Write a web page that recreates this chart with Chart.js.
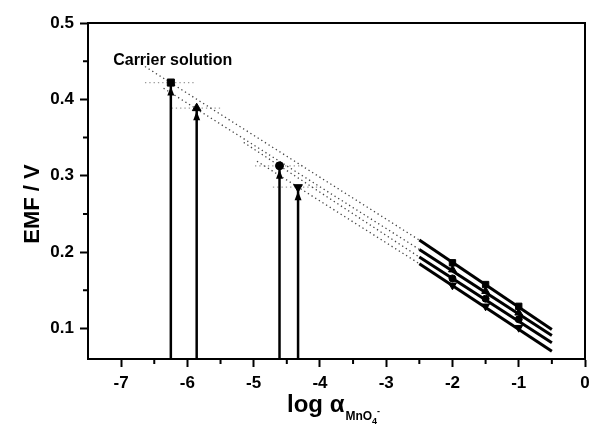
<!DOCTYPE html>
<html><head><meta charset="utf-8">
<script src="https://cdn.jsdelivr.net/npm/chart.js@4/dist/chart.umd.min.js"></script>
<style>html,body{margin:0;padding:0;background:#fff;overflow:hidden}#wrap{width:591px;height:425px;position:relative}</style>
</head><body><div id="wrap"><canvas id="c"></canvas></div>
<script>
// ---- axis ticks ----
const xTicks = [-7, -6, -5, -4, -3, -2, -1, 0];
const yTicks = [0.1, 0.2, 0.3, 0.4, 0.5];
const xMinorTicks = [-6.5, -5.5, -4.5, -3.5, -2.5, -1.5, -0.5];
const yMinorTicks = [0.15, 0.25, 0.35, 0.45];
const xRange = [-7.5, 0];
const yRange = [0.06, 0.5];

// ---- calibration points (log a, EMF / V) ----
const calibLogA = [-2, -1.5, -1];
const emfSquare   = [0.186, 0.1575, 0.129];
const emfTriUp    = [0.177, 0.1488, 0.1205];
const emfCircle   = [0.1655, 0.139, 0.112];
const emfTriDown  = [0.1565, 0.129, 0.101];

// ---- fitted calibration lines (solid) ----
const fitLogA = [-2.5, -0.5];
const fitSquare  = [0.2157, 0.0987];
const fitTriUp   = [0.2035, 0.0908];
const fitCircle  = [0.1935, 0.0813];
const fitTriDown = [0.1848, 0.0703];

// ---- carrier solution readings ----
const carrierLogA = [-6.25, -5.86, -4.61, -4.33];
const carrierEmf  = [0.422, 0.3885, 0.313, 0.285];

// ---- dotted extrapolations (from start to the fit line start at -2.5) ----
const extStartLogA = [-6.64, -6.36, -5.15, -4.95];
const extStartEmf  = [0.443, 0.4146, 0.3436, 0.319];

// ---- dotted carrier levels ----
const levelFromLogA = [-6.64, -6.24, -4.98, -4.71];
const levelToLogA   = [-5.89, -5.48, -4.26, -4.0];

const annotText = 'Carrier solution';
const annotAt = {x: -7.12, y: 0.445};

const FONT = "'Liberation Sans', Arial, Helvetica, sans-serif";
const styles = [
  {pt: 'rect', rot: 0, r: 5},
  {pt: 'triangle', rot: 0, r: 5},
  {pt: 'circle', rot: 0, r: 4},
  {pt: 'triangle', rot: 180, r: 5}
];
const calibSeries = [emfSquare, emfTriUp, emfCircle, emfTriDown];
const fitSeries = [fitSquare, fitTriUp, fitCircle, fitTriDown];

const datasets = [];
fitSeries.forEach((s) => {
  datasets.push({data: fitLogA.map((x, i) => ({x, y: s[i]})), showLine: true,
    borderColor: '#000', borderWidth: 3, pointRadius: 0, order: 2});
});
calibSeries.forEach((s, k) => {
  datasets.push({data: calibLogA.map((x, i) => ({x, y: s[i]})), showLine: false,
    pointStyle: styles[k].pt, rotation: styles[k].rot, pointRadius: styles[k].r - 0.5,
    backgroundColor: '#000', borderColor: '#000', borderWidth: 1, order: 0});
});
carrierLogA.forEach((x0, k) => {
  datasets.push({data: [{x: extStartLogA[k], y: extStartEmf[k]}, {x: fitLogA[0], y: fitSeries[k][0]}],
    showLine: true, borderColor: '#444', borderWidth: 1.3, borderDash: [1.3, 3], pointRadius: 0, order: 3});
});
carrierLogA.forEach((x0, k) => {
  datasets.push({data: [{x: levelFromLogA[k], y: carrierEmf[k]}, {x: levelToLogA[k], y: carrierEmf[k]}],
    showLine: true, borderColor: '#999', borderWidth: 1.3, borderDash: [1.3, 3], pointRadius: 0, order: 3});
});
carrierLogA.forEach((x0, k) => {
  datasets.push({data: [{x: x0, y: yRange[0]}, {x: x0, y: carrierEmf[k]}],
    showLine: true, borderColor: '#000', borderWidth: 2.5, pointRadius: 0, order: 1});
});
carrierLogA.forEach((x0, k) => {
  datasets.push({data: [{x: x0, y: carrierEmf[k]}], showLine: false,
    pointStyle: styles[k].pt, rotation: styles[k].rot, pointRadius: styles[k].r,
    backgroundColor: '#000', borderColor: '#000', borderWidth: 1, order: 0});
});

const deco = {
  id: 'deco',
  afterDatasetsDraw(chart) {
    const {ctx, scales: {x, y}} = chart;
    ctx.save();
    ctx.fillStyle = '#000';
    carrierLogA.forEach((v, k) => {
      const px = x.getPixelForValue(v);
      const py = y.getPixelForValue(carrierEmf[k]) + (styles[k].pt === 'triangle' && styles[k].rot === 0 ? 3 : 4);
      ctx.beginPath();
      ctx.moveTo(px, py);
      ctx.lineTo(px - 3.5, py + 9);
      ctx.lineTo(px + 3.5, py + 9);
      ctx.closePath();
      ctx.fill();
    });
    ctx.restore();
  },
  afterDraw(chart) {
    const {ctx, chartArea: a, scales: {x, y}} = chart;
    ctx.save();
    ctx.strokeStyle = '#000';
    ctx.lineWidth = 2;
    ctx.strokeRect(a.left, a.top, a.right - a.left, a.bottom - a.top);
    ctx.beginPath();
    xMinorTicks.forEach(v => { const p = x.getPixelForValue(v); ctx.moveTo(p, a.bottom); ctx.lineTo(p, a.bottom + 5); });
    yMinorTicks.forEach(v => { const p = y.getPixelForValue(v); ctx.moveTo(a.left - 5, p); ctx.lineTo(a.left, p); });
    ctx.stroke();

    ctx.fillStyle = '#000';
    ctx.font = 'bold 16px ' + FONT;
    ctx.textAlign = 'left';
    ctx.textBaseline = 'alphabetic';
    ctx.fillText(annotText, x.getPixelForValue(annotAt.x), y.getPixelForValue(annotAt.y));

    ctx.save();
    ctx.translate(38.5, 204);
    ctx.rotate(-Math.PI / 2);
    ctx.font = 'bold 22px ' + FONT;
    ctx.textAlign = 'center';
    ctx.fillText('EMF / V', 0, 0);
    ctx.restore();

    let cx = 287;
    const base = 412;
    ctx.textAlign = 'left';
    ctx.font = 'bold 24px ' + FONT;
    ctx.fillText('log α', cx, base);
    cx += ctx.measureText('log α').width + 1;
    ctx.font = 'bold 12px ' + FONT;
    ctx.fillText('MnO', cx, base + 8);
    cx += ctx.measureText('MnO').width;
    ctx.font = 'bold 9px ' + FONT;
    ctx.fillText('4', cx, base + 12);
    ctx.fillText('-', cx + 5, base + 2);
    ctx.restore();
  }
};

new Chart(document.getElementById('c'), {
  type: 'scatter',
  data: {datasets},
  options: {
    responsive: true, maintainAspectRatio: false, animation: false,
    layout: {padding: {left: 0, right: 6, top: 23, bottom: 0}},
    plugins: {legend: {display: false}, tooltip: {enabled: false}},
    scales: {
      x: {
        type: 'linear', min: xRange[0], max: xRange[1],
        afterBuildTicks: ax => { ax.ticks = xTicks.map(v => ({value: v})); },
        afterFit: s => { s.height = 66; s.paddingLeft = 0; s.paddingRight = 0; },
        grid: {drawOnChartArea: false, tickLength: 8, tickWidth: 2, tickColor: '#000'},
        border: {display: true, color: '#000', width: 2},
        ticks: {color: '#000', font: {family: FONT, size: 17, weight: 'bold'}, padding: 6,
          maxRotation: 0, autoSkip: false, callback: v => String(v)}
      },
      y: {
        type: 'linear', min: yRange[0], max: yRange[1],
        afterBuildTicks: ax => { ax.ticks = yTicks.map(v => ({value: v})); },
        afterFit: s => { s.width = 88; s.paddingTop = 0; s.paddingBottom = 0; },
        grid: {drawOnChartArea: false, tickLength: 8, tickWidth: 2, tickColor: '#000'},
        border: {display: true, color: '#000', width: 2},
        ticks: {color: '#000', font: {family: FONT, size: 17, weight: 'bold'}, padding: 6,
          autoSkip: false, callback: v => v.toFixed(1)}
      }
    }
  },
  plugins: [deco]
});
</script>
</body></html>
